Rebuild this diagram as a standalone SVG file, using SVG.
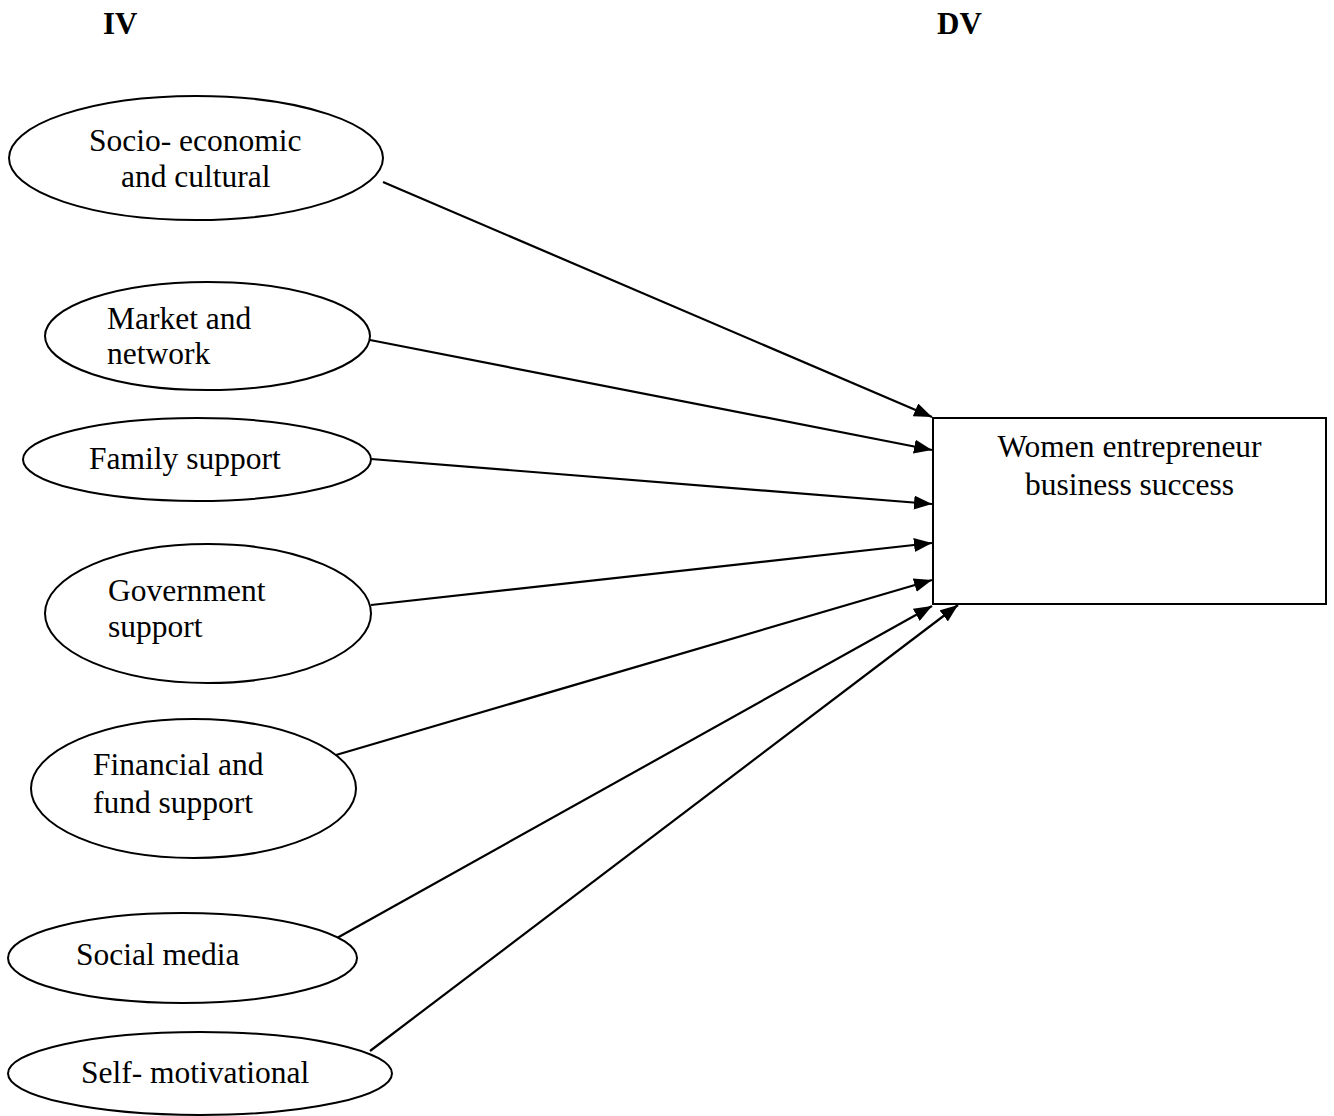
<svg xmlns="http://www.w3.org/2000/svg" width="1334" height="1116" viewBox="0 0 1334 1116">
<style>
.n{fill:#fff;stroke:#000;stroke-width:2}
.t{font-family:"Liberation Serif","Times New Roman",serif;font-size:31.5px;fill:#000}
.h{font-family:"Liberation Serif","Times New Roman",serif;font-size:31px;font-weight:bold;fill:#000}
.c{stroke:#000;stroke-width:2.2;fill:none;marker-end:url(#ah)}
</style>
<defs>
<marker id="ah" markerUnits="userSpaceOnUse" markerWidth="20" markerHeight="14" refX="18" refY="7" orient="auto">
<path d="M0,0 L18,7 L0,14 Z" fill="#000"/>
</marker>
</defs>
<rect width="1334" height="1116" fill="#fff"/>
<text class="h" x="103" y="34">IV</text>
<text class="h" x="937" y="34">DV</text>
<g id="connectors">
<line class="c" x1="383" y1="182" x2="932" y2="417"/>
<line class="c" x1="370" y1="340" x2="932" y2="450"/>
<line class="c" x1="371" y1="459" x2="932" y2="504"/>
<line class="c" x1="371" y1="605" x2="932" y2="543"/>
<line class="c" x1="336" y1="755" x2="932" y2="580"/>
<line class="c" x1="337" y1="938" x2="932" y2="606"/>
<line class="c" x1="370" y1="1051" x2="958" y2="605"/>
</g>
<g id="n1"><ellipse class="n" cx="196" cy="158" rx="187" ry="62"/><text class="t" x="89" y="151">Socio- economic</text><text class="t" x="121" y="187">and cultural</text></g>
<g id="n2"><ellipse class="n" cx="207.5" cy="336" rx="162.5" ry="54"/><text class="t" x="107" y="329">Market and</text><text class="t" x="107" y="364">network</text></g>
<g id="n3"><ellipse class="n" cx="197" cy="459.5" rx="174" ry="41.5"/><text class="t" x="89" y="469">Family support</text></g>
<g id="n4"><ellipse class="n" cx="208" cy="613.5" rx="163" ry="69.5"/><text class="t" x="108" y="601">Government</text><text class="t" x="108" y="637">support</text></g>
<g id="n5"><ellipse class="n" cx="193.5" cy="788.5" rx="162.5" ry="69.5"/><text class="t" x="93" y="775">Financial and</text><text class="t" x="93" y="813">fund support</text></g>
<g id="n6"><ellipse class="n" cx="182.5" cy="958" rx="174.5" ry="45"/><text class="t" x="76" y="965">Social media</text></g>
<g id="n7"><ellipse class="n" cx="200" cy="1073.5" rx="192" ry="41.5"/><text class="t" x="81" y="1083">Self- motivational</text></g>
<g id="n8"><rect class="n" x="933" y="418" width="393" height="186"/><text class="t" x="1129.5" y="457" text-anchor="middle">Women entrepreneur</text><text class="t" x="1129.5" y="495" text-anchor="middle">business success</text></g>
</svg>
